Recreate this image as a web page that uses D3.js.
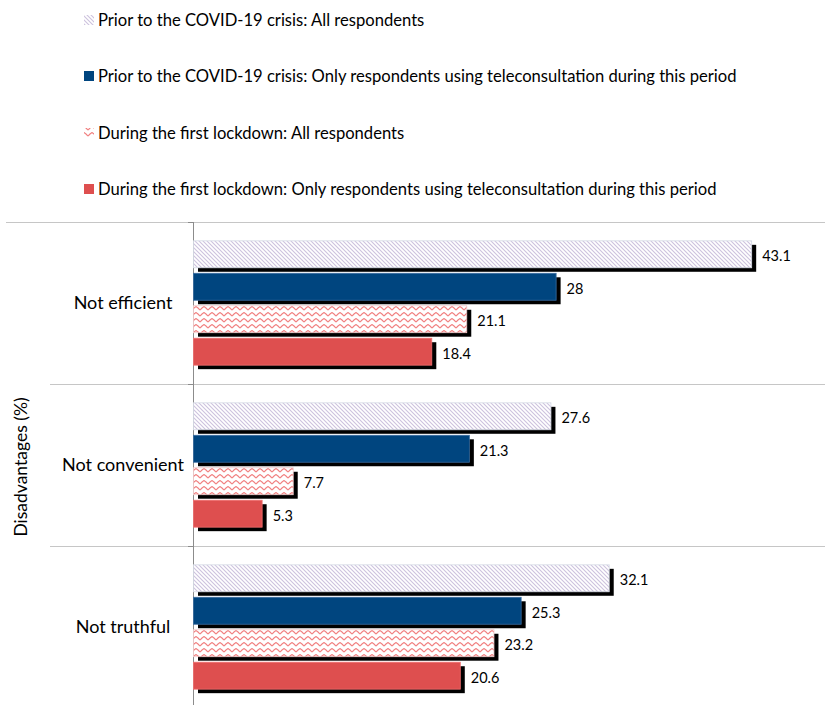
<!DOCTYPE html>
<html>
<head>
<meta charset="utf-8">
<script src="https://cdn.jsdelivr.net/npm/d3@7"></script>
<style>
  body { margin: 0; background: #fff; }
  text { font-family: Lato, "Noto Sans", sans-serif; fill: #000; }
</style>
</head>
<body>
<div id="chart"></div>
<script>
// Data
var categories = ["Not efficient", "Not convenient", "Not truthful"];
var seriesNames = [
    "Prior to the COVID-19 crisis: All respondents",
    "Prior to the COVID-19 crisis: Only respondents using teleconsultation during this period",
    "During the first lockdown: All respondents",
    "During the first lockdown: Only respondents using teleconsultation during this period"
];
var priorAll = [43.1, 27.6, 32.1];
var priorTele = [28, 21.3, 25.3];
var lockAll = [21.1, 7.7, 23.2];
var lockTele = [18.4, 5.3, 20.6];
var seriesValues = [priorAll, priorTele, lockAll, lockTele];

var svgWidth = 825;
var svgHeight = 705;

var svg = d3.select("#chart")
    .append("svg")
    .attr("width", svgWidth)
    .attr("height", svgHeight);

// patterns
var defs = svg.append("defs");
var hatch = defs.append("pattern")
    .attr("id", "hatch")
    .attr("patternUnits", "userSpaceOnUse")
    .attr("width", 4).attr("height", 4);
hatch.append("rect").attr("width", 4).attr("height", 4).attr("fill", "#fff");
hatch.append("path")
    .attr("d", "M-1,-1 L5,5 M-1,3 L1,5 M3,-1 L5,1")
    .attr("stroke", "#cdc2de").attr("stroke-width", 1.1);

var wave = defs.append("pattern")
    .attr("id", "wave")
    .attr("patternUnits", "userSpaceOnUse")
    .attr("width", 8).attr("height", 6);
wave.append("rect").attr("width", 8).attr("height", 6).attr("fill", "#fff");
wave.append("path")
    .attr("d", "M0,4 L2,2 L4,0.5 L6,2 L8,4")
    .attr("fill", "none")
    .attr("stroke", "#f17f7f").attr("stroke-width", 1.1);

var fills = ["url(#hatch)", "#00457f", "url(#wave)", "#de4f4f"];
var strokes = ["#d6dbe6", "#3a6da0", "#f0c8c8", "#f07070"];

// scales
var x = d3.scaleLinear().domain([0, 48.8]).range([193, 825]);
var y0 = d3.scaleBand().domain(categories).range([222, 708]);
var y1 = d3.scaleBand().domain(d3.range(4))
    .range([0, y0.bandwidth()])
    .paddingInner(0.17)
    .paddingOuter(0.58);

// gridlines between categories
svg.append("line")
    .attr("x1", 6).attr("x2", 825)
    .attr("y1", 222.5).attr("y2", 222.5)
    .attr("stroke", "#c6c6c6");
categories.slice(1).forEach(function(c) {
    svg.append("line")
        .attr("x1", 50).attr("x2", 825)
        .attr("y1", Math.round(y0(c)) + 0.5).attr("y2", Math.round(y0(c)) + 0.5)
        .attr("stroke", "#c6c6c6");
});

// axis
svg.append("line")
    .attr("x1", 193.5).attr("x2", 193.5)
    .attr("y1", 222).attr("y2", 705)
    .attr("stroke", "#8c8c8c");
categories.forEach(function(c) {
    svg.append("line")
        .attr("x1", 188).attr("x2", 193)
        .attr("y1", Math.round(y0(c)) + 0.5).attr("y2", Math.round(y0(c)) + 0.5)
        .attr("stroke", "#8c8c8c");
});

// bars
var groups = svg.selectAll(".cat")
    .data(categories)
    .enter()
    .append("g")
    .attr("class", "cat")
    .attr("transform", d => `translate(0, ${y0(d)})`);

groups.each(function(cat, ci) {
    var g = d3.select(this);
    seriesValues.forEach(function(vals, si) {
        var v = vals[ci];
        var top = y1(si);
        var h = y1.bandwidth();
        // shadow
        g.append("rect")
            .attr("x", x(0) + 5)
            .attr("y", top + 4)
            .attr("width", x(v) - x(0))
            .attr("height", h)
            .attr("fill", "#000");
        g.append("rect")
            .attr("x", x(0) + 0.5)
            .attr("y", top)
            .attr("width", x(v) - x(0))
            .attr("height", h)
            .attr("fill", fills[si])
            .attr("stroke", strokes[si])
            .attr("stroke-width", 0.8);
        g.append("text")
            .attr("x", x(v) + 11)
            .attr("y", top + h / 2 + 2)
            .attr("dy", "0.35em")
            .style("font-size", "14.5px")
            .text(v);
    });
    g.append("text")
        .attr("x", 123)
        .attr("y", y0.bandwidth() / 2)
        .attr("dy", "0.35em")
        .attr("text-anchor", "middle")
        .style("font-size", "18px")
        .text(cat);
});

// y axis title
svg.append("text")
    .attr("transform", "translate(27, 467) rotate(-90)")
    .attr("text-anchor", "middle")
    .style("font-size", "17.5px")
    .text("Disadvantages (%)");

// legend
var legendY = [20, 76, 133, 189];
seriesNames.forEach(function(name, i) {
    svg.append("rect")
        .attr("x", 84).attr("y", legendY[i] - 5)
        .attr("width", 10).attr("height", 10)
        .attr("fill", fills[i]);
    svg.append("text")
        .attr("x", 98).attr("y", legendY[i])
        .attr("dy", "0.35em")
        .style("font-size", "16.6px")
        .text(name);
});
</script>
</body>
</html>
